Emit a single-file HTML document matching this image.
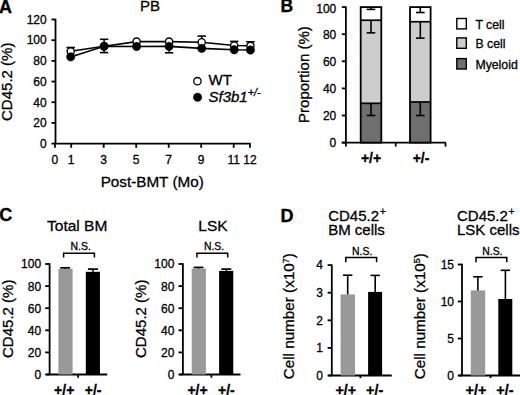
<!DOCTYPE html>
<html><head><meta charset="utf-8"><style>
html,body{margin:0;padding:0;background:#fff;}
body{width:520px;height:395px;overflow:hidden;}
svg{display:block;font-family:"Liberation Sans", sans-serif;}
text{stroke:#000;stroke-width:0.3px;}
</style></head><body>
<svg width="520" height="395" viewBox="0 0 520 395" font-family='"Liberation Sans", sans-serif' fill="#000">
<rect width="520" height="395" fill="#fff"/>
<text x="-0.9" y="12.5" font-size="18" font-weight="bold">A</text>
<text x="150" y="10.8" font-size="15" text-anchor="middle">PB</text>
<line x1="55.5" y1="18.8" x2="55.5" y2="143.6" stroke="#000" stroke-width="1.8"/>
<line x1="51.5" y1="143.6" x2="55.5" y2="143.6" stroke="#000" stroke-width="1.8"/>
<text x="46.7" y="147.9" font-size="12" text-anchor="end">0</text>
<line x1="51.5" y1="122.91666666666666" x2="55.5" y2="122.91666666666666" stroke="#000" stroke-width="1.8"/>
<text x="46.7" y="127.21666666666665" font-size="12" text-anchor="end">20</text>
<line x1="51.5" y1="102.23333333333332" x2="55.5" y2="102.23333333333332" stroke="#000" stroke-width="1.8"/>
<text x="46.7" y="106.53333333333332" font-size="12" text-anchor="end">40</text>
<line x1="51.5" y1="81.55" x2="55.5" y2="81.55" stroke="#000" stroke-width="1.8"/>
<text x="46.7" y="85.85" font-size="12" text-anchor="end">60</text>
<line x1="51.5" y1="60.86666666666666" x2="55.5" y2="60.86666666666666" stroke="#000" stroke-width="1.8"/>
<text x="46.7" y="65.16666666666666" font-size="12" text-anchor="end">80</text>
<line x1="51.5" y1="40.18333333333332" x2="55.5" y2="40.18333333333332" stroke="#000" stroke-width="1.8"/>
<text x="46.7" y="44.48333333333332" font-size="12" text-anchor="end">100</text>
<line x1="51.5" y1="19.5" x2="55.5" y2="19.5" stroke="#000" stroke-width="1.8"/>
<text x="46.7" y="23.8" font-size="12" text-anchor="end">120</text>
<line x1="54.8" y1="143.6" x2="250.64999999999998" y2="143.6" stroke="#000" stroke-width="1.8"/>
<line x1="54.95" y1="143.6" x2="54.95" y2="147.8" stroke="#000" stroke-width="1.8"/>
<text x="54.95" y="164.2" font-size="12" text-anchor="middle">0</text>
<line x1="71.2" y1="143.6" x2="71.2" y2="147.8" stroke="#000" stroke-width="1.8"/>
<text x="71.2" y="164.2" font-size="12" text-anchor="middle">1</text>
<line x1="103.7" y1="143.6" x2="103.7" y2="147.8" stroke="#000" stroke-width="1.8"/>
<text x="103.7" y="164.2" font-size="12" text-anchor="middle">3</text>
<line x1="136.2" y1="143.6" x2="136.2" y2="147.8" stroke="#000" stroke-width="1.8"/>
<text x="136.2" y="164.2" font-size="12" text-anchor="middle">5</text>
<line x1="168.7" y1="143.6" x2="168.7" y2="147.8" stroke="#000" stroke-width="1.8"/>
<text x="168.7" y="164.2" font-size="12" text-anchor="middle">7</text>
<line x1="201.2" y1="143.6" x2="201.2" y2="147.8" stroke="#000" stroke-width="1.8"/>
<text x="201.2" y="164.2" font-size="12" text-anchor="middle">9</text>
<line x1="233.7" y1="143.6" x2="233.7" y2="147.8" stroke="#000" stroke-width="1.8"/>
<text x="233.7" y="164.2" font-size="12" text-anchor="middle">11</text>
<line x1="249.95" y1="143.6" x2="249.95" y2="147.8" stroke="#000" stroke-width="1.8"/>
<text x="249.95" y="164.2" font-size="12" text-anchor="middle">12</text>
<text x="152.2" y="186.8" font-size="15.25" text-anchor="middle">Post-BMT (Mo)</text>
<text x="0" y="0" font-size="15" text-anchor="middle" transform="translate(11.5,81.8) rotate(-90)">CD45.2 (%)</text>
<line x1="70.7" y1="47.5" x2="70.7" y2="51.3" stroke="#000" stroke-width="1.4"/>
<line x1="66.5" y1="47.5" x2="74.9" y2="47.5" stroke="#000" stroke-width="1.6"/>
<line x1="104.10000000000001" y1="39.3" x2="104.10000000000001" y2="46.3" stroke="#000" stroke-width="1.4"/>
<line x1="99.9" y1="39.3" x2="108.30000000000001" y2="39.3" stroke="#000" stroke-width="1.6"/>
<line x1="104.10000000000001" y1="52.6" x2="104.10000000000001" y2="46.3" stroke="#000" stroke-width="1.4"/>
<line x1="99.9" y1="52.6" x2="108.30000000000001" y2="52.6" stroke="#000" stroke-width="1.6"/>
<line x1="169.1" y1="52.8" x2="169.1" y2="46.4" stroke="#000" stroke-width="1.4"/>
<line x1="164.9" y1="52.8" x2="173.29999999999998" y2="52.8" stroke="#000" stroke-width="1.6"/>
<line x1="201.7" y1="36.1" x2="201.7" y2="42.2" stroke="#000" stroke-width="1.4"/>
<line x1="197.5" y1="36.1" x2="205.89999999999998" y2="36.1" stroke="#000" stroke-width="1.6"/>
<line x1="234.2" y1="41.4" x2="234.2" y2="45.5" stroke="#000" stroke-width="1.4"/>
<line x1="230.0" y1="41.4" x2="238.39999999999998" y2="41.4" stroke="#000" stroke-width="1.6"/>
<line x1="250.45" y1="41.8" x2="250.45" y2="45.8" stroke="#000" stroke-width="1.4"/>
<line x1="246.25" y1="41.8" x2="254.64999999999998" y2="41.8" stroke="#000" stroke-width="1.6"/>
<path d="M70.70,51.30 L104.10,46.30 L136.60,41.60 L169.10,41.60 L201.70,42.20 L234.20,45.50 L250.45,45.80" fill="none" stroke="#000" stroke-width="1.6"/>
<path d="M70.70,56.90 L104.10,46.30 L136.60,46.50 L169.10,46.40 L201.70,48.40 L234.20,49.80 L250.45,50.00" fill="none" stroke="#000" stroke-width="1.6"/>
<circle cx="70.70" cy="51.30" r="3.6" fill="#fff" stroke="#000" stroke-width="1.4"/>
<circle cx="104.10" cy="46.30" r="3.6" fill="#fff" stroke="#000" stroke-width="1.4"/>
<circle cx="136.60" cy="41.60" r="3.6" fill="#fff" stroke="#000" stroke-width="1.4"/>
<circle cx="169.10" cy="41.60" r="3.6" fill="#fff" stroke="#000" stroke-width="1.4"/>
<circle cx="201.70" cy="42.20" r="3.6" fill="#fff" stroke="#000" stroke-width="1.4"/>
<circle cx="234.20" cy="45.50" r="3.6" fill="#fff" stroke="#000" stroke-width="1.4"/>
<circle cx="250.45" cy="45.80" r="3.6" fill="#fff" stroke="#000" stroke-width="1.4"/>
<circle cx="70.70" cy="56.90" r="4.2" fill="#000" stroke="#000" stroke-width="0.5"/>
<circle cx="104.10" cy="46.30" r="4.2" fill="#000" stroke="#000" stroke-width="0.5"/>
<circle cx="136.60" cy="46.50" r="4.2" fill="#000" stroke="#000" stroke-width="0.5"/>
<circle cx="169.10" cy="46.40" r="4.2" fill="#000" stroke="#000" stroke-width="0.5"/>
<circle cx="201.70" cy="48.40" r="4.2" fill="#000" stroke="#000" stroke-width="0.5"/>
<circle cx="234.20" cy="49.80" r="4.2" fill="#000" stroke="#000" stroke-width="0.5"/>
<circle cx="250.45" cy="50.00" r="4.2" fill="#000" stroke="#000" stroke-width="0.5"/>
<circle cx="197.40" cy="81.20" r="3.7" fill="#fff" stroke="#000" stroke-width="1.3"/>
<text x="208.6" y="85.1" font-size="15">WT</text>
<circle cx="197.60" cy="97.20" r="4.3" fill="#000" stroke="#000" stroke-width="0.3"/>
<text x="208.5" y="102" font-size="15" font-style="italic">Sf3b1<tspan font-size="10.8" dy="-5.6">+/-</tspan></text>
<text x="280.5" y="12.3" font-size="17.5" font-weight="bold">B</text>
<line x1="345.9" y1="6.399999999999994" x2="345.9" y2="142.6" stroke="#000" stroke-width="1.8"/>
<line x1="341.8" y1="142.6" x2="345.9" y2="142.6" stroke="#000" stroke-width="1.8"/>
<text x="336.3" y="147.4" font-size="12" text-anchor="end">0</text>
<line x1="341.8" y1="115.5" x2="345.9" y2="115.5" stroke="#000" stroke-width="1.8"/>
<text x="336.3" y="120.3" font-size="12" text-anchor="end">20</text>
<line x1="341.8" y1="88.39999999999999" x2="345.9" y2="88.39999999999999" stroke="#000" stroke-width="1.8"/>
<text x="336.3" y="93.19999999999999" font-size="12" text-anchor="end">40</text>
<line x1="341.8" y1="61.3" x2="345.9" y2="61.3" stroke="#000" stroke-width="1.8"/>
<text x="336.3" y="66.1" font-size="12" text-anchor="end">60</text>
<line x1="341.8" y1="34.19999999999999" x2="345.9" y2="34.19999999999999" stroke="#000" stroke-width="1.8"/>
<text x="336.3" y="38.999999999999986" font-size="12" text-anchor="end">80</text>
<line x1="341.8" y1="7.099999999999994" x2="345.9" y2="7.099999999999994" stroke="#000" stroke-width="1.8"/>
<text x="336.3" y="12.499999999999995" font-size="12" text-anchor="end">100</text>
<line x1="341.8" y1="142.6" x2="446" y2="142.6" stroke="#000" stroke-width="1.8"/>
<line x1="345.9" y1="142.6" x2="345.9" y2="146.6" stroke="#000" stroke-width="1.8"/>
<line x1="395.7" y1="142.6" x2="395.7" y2="146.6" stroke="#000" stroke-width="1.8"/>
<line x1="445.5" y1="142.6" x2="445.5" y2="146.6" stroke="#000" stroke-width="1.8"/>
<text x="0" y="0" font-size="15" text-anchor="middle" transform="translate(308.5,74.6) rotate(-90)">Proportion (%)</text>
<rect x="360.70" y="7.10" width="20.60" height="13.14" fill="#fff"/>
<rect x="360.70" y="20.24" width="20.60" height="83.06" fill="#cdcdcd"/>
<rect x="360.70" y="103.30" width="20.60" height="39.30" fill="#6f6f6f"/>
<line x1="371.0" y1="20.243499999999997" x2="371.0" y2="32.845" stroke="#000" stroke-width="1.6"/>
<line x1="366.7" y1="32.845" x2="375.3" y2="32.845" stroke="#000" stroke-width="1.6"/>
<line x1="371.0" y1="103.30499999999999" x2="371.0" y2="115.5" stroke="#000" stroke-width="1.6"/>
<line x1="366.7" y1="115.5" x2="375.3" y2="115.5" stroke="#000" stroke-width="1.6"/>
<line x1="371.0" y1="7.099999999999994" x2="371.0" y2="9.403500000000008" stroke="#000" stroke-width="1.6"/>
<line x1="366.7" y1="9.403500000000008" x2="375.3" y2="9.403500000000008" stroke="#000" stroke-width="1.6"/>
<rect x="360.70" y="7.10" width="20.60" height="135.50" fill="none" stroke="#000" stroke-width="1.8"/>
<line x1="360.7" y1="20.243499999999997" x2="381.3" y2="20.243499999999997" stroke="#000" stroke-width="1.7"/>
<line x1="360.7" y1="103.30499999999999" x2="381.3" y2="103.30499999999999" stroke="#000" stroke-width="1.7"/>
<rect x="410.00" y="7.10" width="20.60" height="14.63" fill="#fff"/>
<rect x="410.00" y="21.73" width="20.60" height="80.22" fill="#cdcdcd"/>
<rect x="410.00" y="101.95" width="20.60" height="40.65" fill="#6f6f6f"/>
<line x1="420.3" y1="21.733999999999995" x2="420.3" y2="38.12950000000001" stroke="#000" stroke-width="1.6"/>
<line x1="416.0" y1="38.12950000000001" x2="424.6" y2="38.12950000000001" stroke="#000" stroke-width="1.6"/>
<line x1="420.3" y1="101.94999999999999" x2="420.3" y2="115.5" stroke="#000" stroke-width="1.6"/>
<line x1="416.0" y1="115.5" x2="424.6" y2="115.5" stroke="#000" stroke-width="1.6"/>
<line x1="420.3" y1="7.099999999999994" x2="420.3" y2="12.52000000000001" stroke="#000" stroke-width="1.6"/>
<line x1="416.0" y1="12.52000000000001" x2="424.6" y2="12.52000000000001" stroke="#000" stroke-width="1.6"/>
<rect x="410.00" y="7.10" width="20.60" height="135.50" fill="none" stroke="#000" stroke-width="1.8"/>
<line x1="410.0" y1="21.733999999999995" x2="430.6" y2="21.733999999999995" stroke="#000" stroke-width="1.7"/>
<line x1="410.0" y1="101.94999999999999" x2="430.6" y2="101.94999999999999" stroke="#000" stroke-width="1.7"/>
<text x="371" y="162.6" font-size="14" font-weight="bold" text-anchor="middle">+/+</text>
<text x="421" y="162.6" font-size="14" font-weight="bold" text-anchor="middle">+/-</text>
<rect x="456.80" y="18.50" width="9.50" height="10.40" fill="#fff" stroke="#000" stroke-width="1.4"/>
<text x="475.4" y="28.9" font-size="12.3">T cell</text>
<rect x="456.80" y="37.90" width="9.50" height="10.40" fill="#cdcdcd" stroke="#000" stroke-width="1.4"/>
<text x="475.4" y="47.8" font-size="12.3">B cell</text>
<rect x="456.80" y="58.60" width="9.50" height="10.40" fill="#6f6f6f" stroke="#000" stroke-width="1.4"/>
<text x="475.4" y="68.7" font-size="12.3">Myeloid</text>
<text x="-0.7" y="221.2" font-size="18" font-weight="bold">C</text>
<line x1="49.6" y1="263.3" x2="49.6" y2="374.5" stroke="#000" stroke-width="1.8"/>
<line x1="45.2" y1="374.5" x2="49.6" y2="374.5" stroke="#000" stroke-width="1.8"/>
<text x="41.1" y="378.9" font-size="12" text-anchor="end">0</text>
<line x1="45.2" y1="352.4" x2="49.6" y2="352.4" stroke="#000" stroke-width="1.8"/>
<text x="41.1" y="356.79999999999995" font-size="12" text-anchor="end">20</text>
<line x1="45.2" y1="330.3" x2="49.6" y2="330.3" stroke="#000" stroke-width="1.8"/>
<text x="41.1" y="334.7" font-size="12" text-anchor="end">40</text>
<line x1="45.2" y1="308.2" x2="49.6" y2="308.2" stroke="#000" stroke-width="1.8"/>
<text x="41.1" y="312.59999999999997" font-size="12" text-anchor="end">60</text>
<line x1="45.2" y1="286.1" x2="49.6" y2="286.1" stroke="#000" stroke-width="1.8"/>
<text x="41.1" y="290.5" font-size="12" text-anchor="end">80</text>
<line x1="45.2" y1="264.0" x2="49.6" y2="264.0" stroke="#000" stroke-width="1.8"/>
<text x="41.1" y="268.4" font-size="12" text-anchor="end">100</text>
<line x1="46.300000000000004" y1="374.5" x2="107.2" y2="374.5" stroke="#000" stroke-width="1.8"/>
<line x1="78.1" y1="374.5" x2="78.1" y2="377.7" stroke="#000" stroke-width="1.8"/>
<rect x="58.40" y="268.70" width="14.20" height="105.80" fill="#999999"/>
<rect x="85.80" y="271.80" width="14.15" height="102.70" fill="#000"/>
<line x1="65.2" y1="268.7" x2="65.2" y2="267.8" stroke="#000" stroke-width="1.6"/>
<line x1="60.300000000000004" y1="267.8" x2="70.10000000000001" y2="267.8" stroke="#000" stroke-width="1.7"/>
<line x1="93.0" y1="271.8" x2="93.0" y2="269.1" stroke="#000" stroke-width="1.6"/>
<line x1="88.0" y1="269.1" x2="98.0" y2="269.1" stroke="#000" stroke-width="1.7"/>
<path d="M63.6,257.6 V253.2 H94.4 V257.6" fill="none" stroke="#000" stroke-width="1.5"/>
<text x="80.7" y="250.1" font-size="10.4" text-anchor="middle">N.S.</text>
<text x="77.2" y="230.9" font-size="15.5" text-anchor="middle">Total BM</text>
<text x="64.2" y="394.6" font-size="14" font-weight="bold" text-anchor="middle">+/+</text>
<text x="93.1" y="394.6" font-size="14" font-weight="bold" text-anchor="middle">+/-</text>
<text x="0" y="0" font-size="15" text-anchor="middle" transform="translate(12.800000000000004,318.8) rotate(-90)">CD45.2 (%)</text>
<line x1="182.9" y1="263.3" x2="182.9" y2="374.5" stroke="#000" stroke-width="1.8"/>
<line x1="178.5" y1="374.5" x2="182.9" y2="374.5" stroke="#000" stroke-width="1.8"/>
<text x="174.4" y="378.9" font-size="12" text-anchor="end">0</text>
<line x1="178.5" y1="352.4" x2="182.9" y2="352.4" stroke="#000" stroke-width="1.8"/>
<text x="174.4" y="356.79999999999995" font-size="12" text-anchor="end">20</text>
<line x1="178.5" y1="330.3" x2="182.9" y2="330.3" stroke="#000" stroke-width="1.8"/>
<text x="174.4" y="334.7" font-size="12" text-anchor="end">40</text>
<line x1="178.5" y1="308.2" x2="182.9" y2="308.2" stroke="#000" stroke-width="1.8"/>
<text x="174.4" y="312.59999999999997" font-size="12" text-anchor="end">60</text>
<line x1="178.5" y1="286.1" x2="182.9" y2="286.1" stroke="#000" stroke-width="1.8"/>
<text x="174.4" y="290.5" font-size="12" text-anchor="end">80</text>
<line x1="178.5" y1="264.0" x2="182.9" y2="264.0" stroke="#000" stroke-width="1.8"/>
<text x="174.4" y="268.4" font-size="12" text-anchor="end">100</text>
<line x1="179.6" y1="374.5" x2="240.5" y2="374.5" stroke="#000" stroke-width="1.8"/>
<line x1="211.4" y1="374.5" x2="211.4" y2="377.7" stroke="#000" stroke-width="1.8"/>
<rect x="191.70" y="268.50" width="14.20" height="106.00" fill="#999999"/>
<rect x="219.10" y="270.90" width="14.15" height="103.60" fill="#000"/>
<line x1="198.5" y1="268.5" x2="198.5" y2="267.4" stroke="#000" stroke-width="1.6"/>
<line x1="193.6" y1="267.4" x2="203.4" y2="267.4" stroke="#000" stroke-width="1.7"/>
<line x1="226.3" y1="270.9" x2="226.3" y2="269.1" stroke="#000" stroke-width="1.6"/>
<line x1="221.3" y1="269.1" x2="231.3" y2="269.1" stroke="#000" stroke-width="1.7"/>
<path d="M196.9,257.6 V253.2 H227.7 V257.6" fill="none" stroke="#000" stroke-width="1.5"/>
<text x="214.0" y="250.1" font-size="10.4" text-anchor="middle">N.S.</text>
<text x="213.0" y="230.9" font-size="15.5" text-anchor="middle">LSK</text>
<text x="197.5" y="394.6" font-size="14" font-weight="bold" text-anchor="middle">+/+</text>
<text x="226.4" y="394.6" font-size="14" font-weight="bold" text-anchor="middle">+/-</text>
<text x="0" y="0" font-size="15" text-anchor="middle" transform="translate(146.10000000000002,318.8) rotate(-90)">CD45.2 (%)</text>
<text x="280.6" y="221.8" font-size="18" font-weight="bold">D</text>
<line x1="331.8" y1="264.40000000000003" x2="331.8" y2="375.5" stroke="#000" stroke-width="1.8"/>
<line x1="327.6" y1="375.5" x2="331.8" y2="375.5" stroke="#000" stroke-width="1.8"/>
<text x="322.90000000000003" y="379.8" font-size="12" text-anchor="end">0</text>
<line x1="327.6" y1="347.9" x2="331.8" y2="347.9" stroke="#000" stroke-width="1.8"/>
<text x="322.90000000000003" y="352.2" font-size="12" text-anchor="end">1</text>
<line x1="327.6" y1="320.3" x2="331.8" y2="320.3" stroke="#000" stroke-width="1.8"/>
<text x="322.90000000000003" y="324.6" font-size="12" text-anchor="end">2</text>
<line x1="327.6" y1="292.70000000000005" x2="331.8" y2="292.70000000000005" stroke="#000" stroke-width="1.8"/>
<text x="322.90000000000003" y="297.00000000000006" font-size="12" text-anchor="end">3</text>
<line x1="327.6" y1="265.1" x2="331.8" y2="265.1" stroke="#000" stroke-width="1.8"/>
<text x="322.90000000000003" y="269.40000000000003" font-size="12" text-anchor="end">4</text>
<line x1="328.5" y1="375.5" x2="391.8" y2="375.5" stroke="#000" stroke-width="1.8"/>
<line x1="360.40000000000003" y1="375.5" x2="360.40000000000003" y2="378.1" stroke="#000" stroke-width="1.8"/>
<rect x="340.60" y="294.40" width="14.40" height="81.10" fill="#999999"/>
<rect x="368.10" y="291.90" width="14.00" height="83.60" fill="#000"/>
<line x1="347.7" y1="294.4" x2="347.7" y2="275.2" stroke="#000" stroke-width="1.6"/>
<line x1="343.0" y1="275.2" x2="352.4" y2="275.2" stroke="#000" stroke-width="1.6"/>
<line x1="375.2" y1="291.9" x2="375.2" y2="275.4" stroke="#000" stroke-width="1.6"/>
<line x1="370.5" y1="275.4" x2="379.9" y2="275.4" stroke="#000" stroke-width="1.6"/>
<path d="M345.8,262.3 V257.6 H376.6 V262.3" fill="none" stroke="#000" stroke-width="1.5"/>
<text x="362.2" y="254.5" font-size="10.4" text-anchor="middle">N.S.</text>
<text x="328.2" y="220.8" font-size="15">CD45.2<tspan font-size="10.5" dx="0.6" dy="-5.6">+</tspan></text>
<text x="328.2" y="234.6" font-size="15">BM cells</text>
<text x="345.8" y="394.9" font-size="14.4" font-weight="bold" text-anchor="middle">+/+</text>
<text x="374.7" y="394.9" font-size="14.4" font-weight="bold" text-anchor="middle">+/-</text>
<text font-size="15.25" text-anchor="middle" transform="translate(294,316.3) rotate(-90)">Cell number (x10<tspan font-size="8.8" dy="-5.4">7</tspan><tspan dy="5.4">)</tspan></text>
<line x1="462.0" y1="263.8" x2="462.0" y2="375.5" stroke="#000" stroke-width="1.8"/>
<line x1="457.8" y1="375.5" x2="462.0" y2="375.5" stroke="#000" stroke-width="1.8"/>
<text x="454.0" y="379.8" font-size="12" text-anchor="end">0</text>
<line x1="457.8" y1="338.5" x2="462.0" y2="338.5" stroke="#000" stroke-width="1.8"/>
<text x="454.0" y="342.8" font-size="12" text-anchor="end">5</text>
<line x1="457.8" y1="301.5" x2="462.0" y2="301.5" stroke="#000" stroke-width="1.8"/>
<text x="454.0" y="305.8" font-size="12" text-anchor="end">10</text>
<line x1="457.8" y1="264.5" x2="462.0" y2="264.5" stroke="#000" stroke-width="1.8"/>
<text x="454.0" y="268.8" font-size="12" text-anchor="end">15</text>
<line x1="458.7" y1="375.5" x2="522.0" y2="375.5" stroke="#000" stroke-width="1.8"/>
<line x1="490.6" y1="375.5" x2="490.6" y2="378.1" stroke="#000" stroke-width="1.8"/>
<rect x="470.80" y="290.40" width="14.40" height="85.10" fill="#999999"/>
<rect x="498.30" y="299.00" width="14.00" height="76.50" fill="#000"/>
<line x1="477.9" y1="290.4" x2="477.9" y2="276.8" stroke="#000" stroke-width="1.6"/>
<line x1="473.2" y1="276.8" x2="482.59999999999997" y2="276.8" stroke="#000" stroke-width="1.6"/>
<line x1="505.4" y1="299.0" x2="505.4" y2="270.3" stroke="#000" stroke-width="1.6"/>
<line x1="500.7" y1="270.3" x2="510.09999999999997" y2="270.3" stroke="#000" stroke-width="1.6"/>
<path d="M476.0,262.3 V257.6 H506.8 V262.3" fill="none" stroke="#000" stroke-width="1.5"/>
<text x="492.4" y="254.5" font-size="10.4" text-anchor="middle">N.S.</text>
<text x="457.0" y="220.8" font-size="15">CD45.2<tspan font-size="10.5" dx="0.6" dy="-5.6">+</tspan></text>
<text x="457.0" y="234.6" font-size="15">LSK cells</text>
<text x="476.0" y="394.9" font-size="14.4" font-weight="bold" text-anchor="middle">+/+</text>
<text x="504.9" y="394.9" font-size="14.4" font-weight="bold" text-anchor="middle">+/-</text>
<text font-size="15.25" text-anchor="middle" transform="translate(425,316.3) rotate(-90)">Cell number (x10<tspan font-size="8.8" dy="-5.4">5</tspan><tspan dy="5.4">)</tspan></text>
</svg>
</body></html>
